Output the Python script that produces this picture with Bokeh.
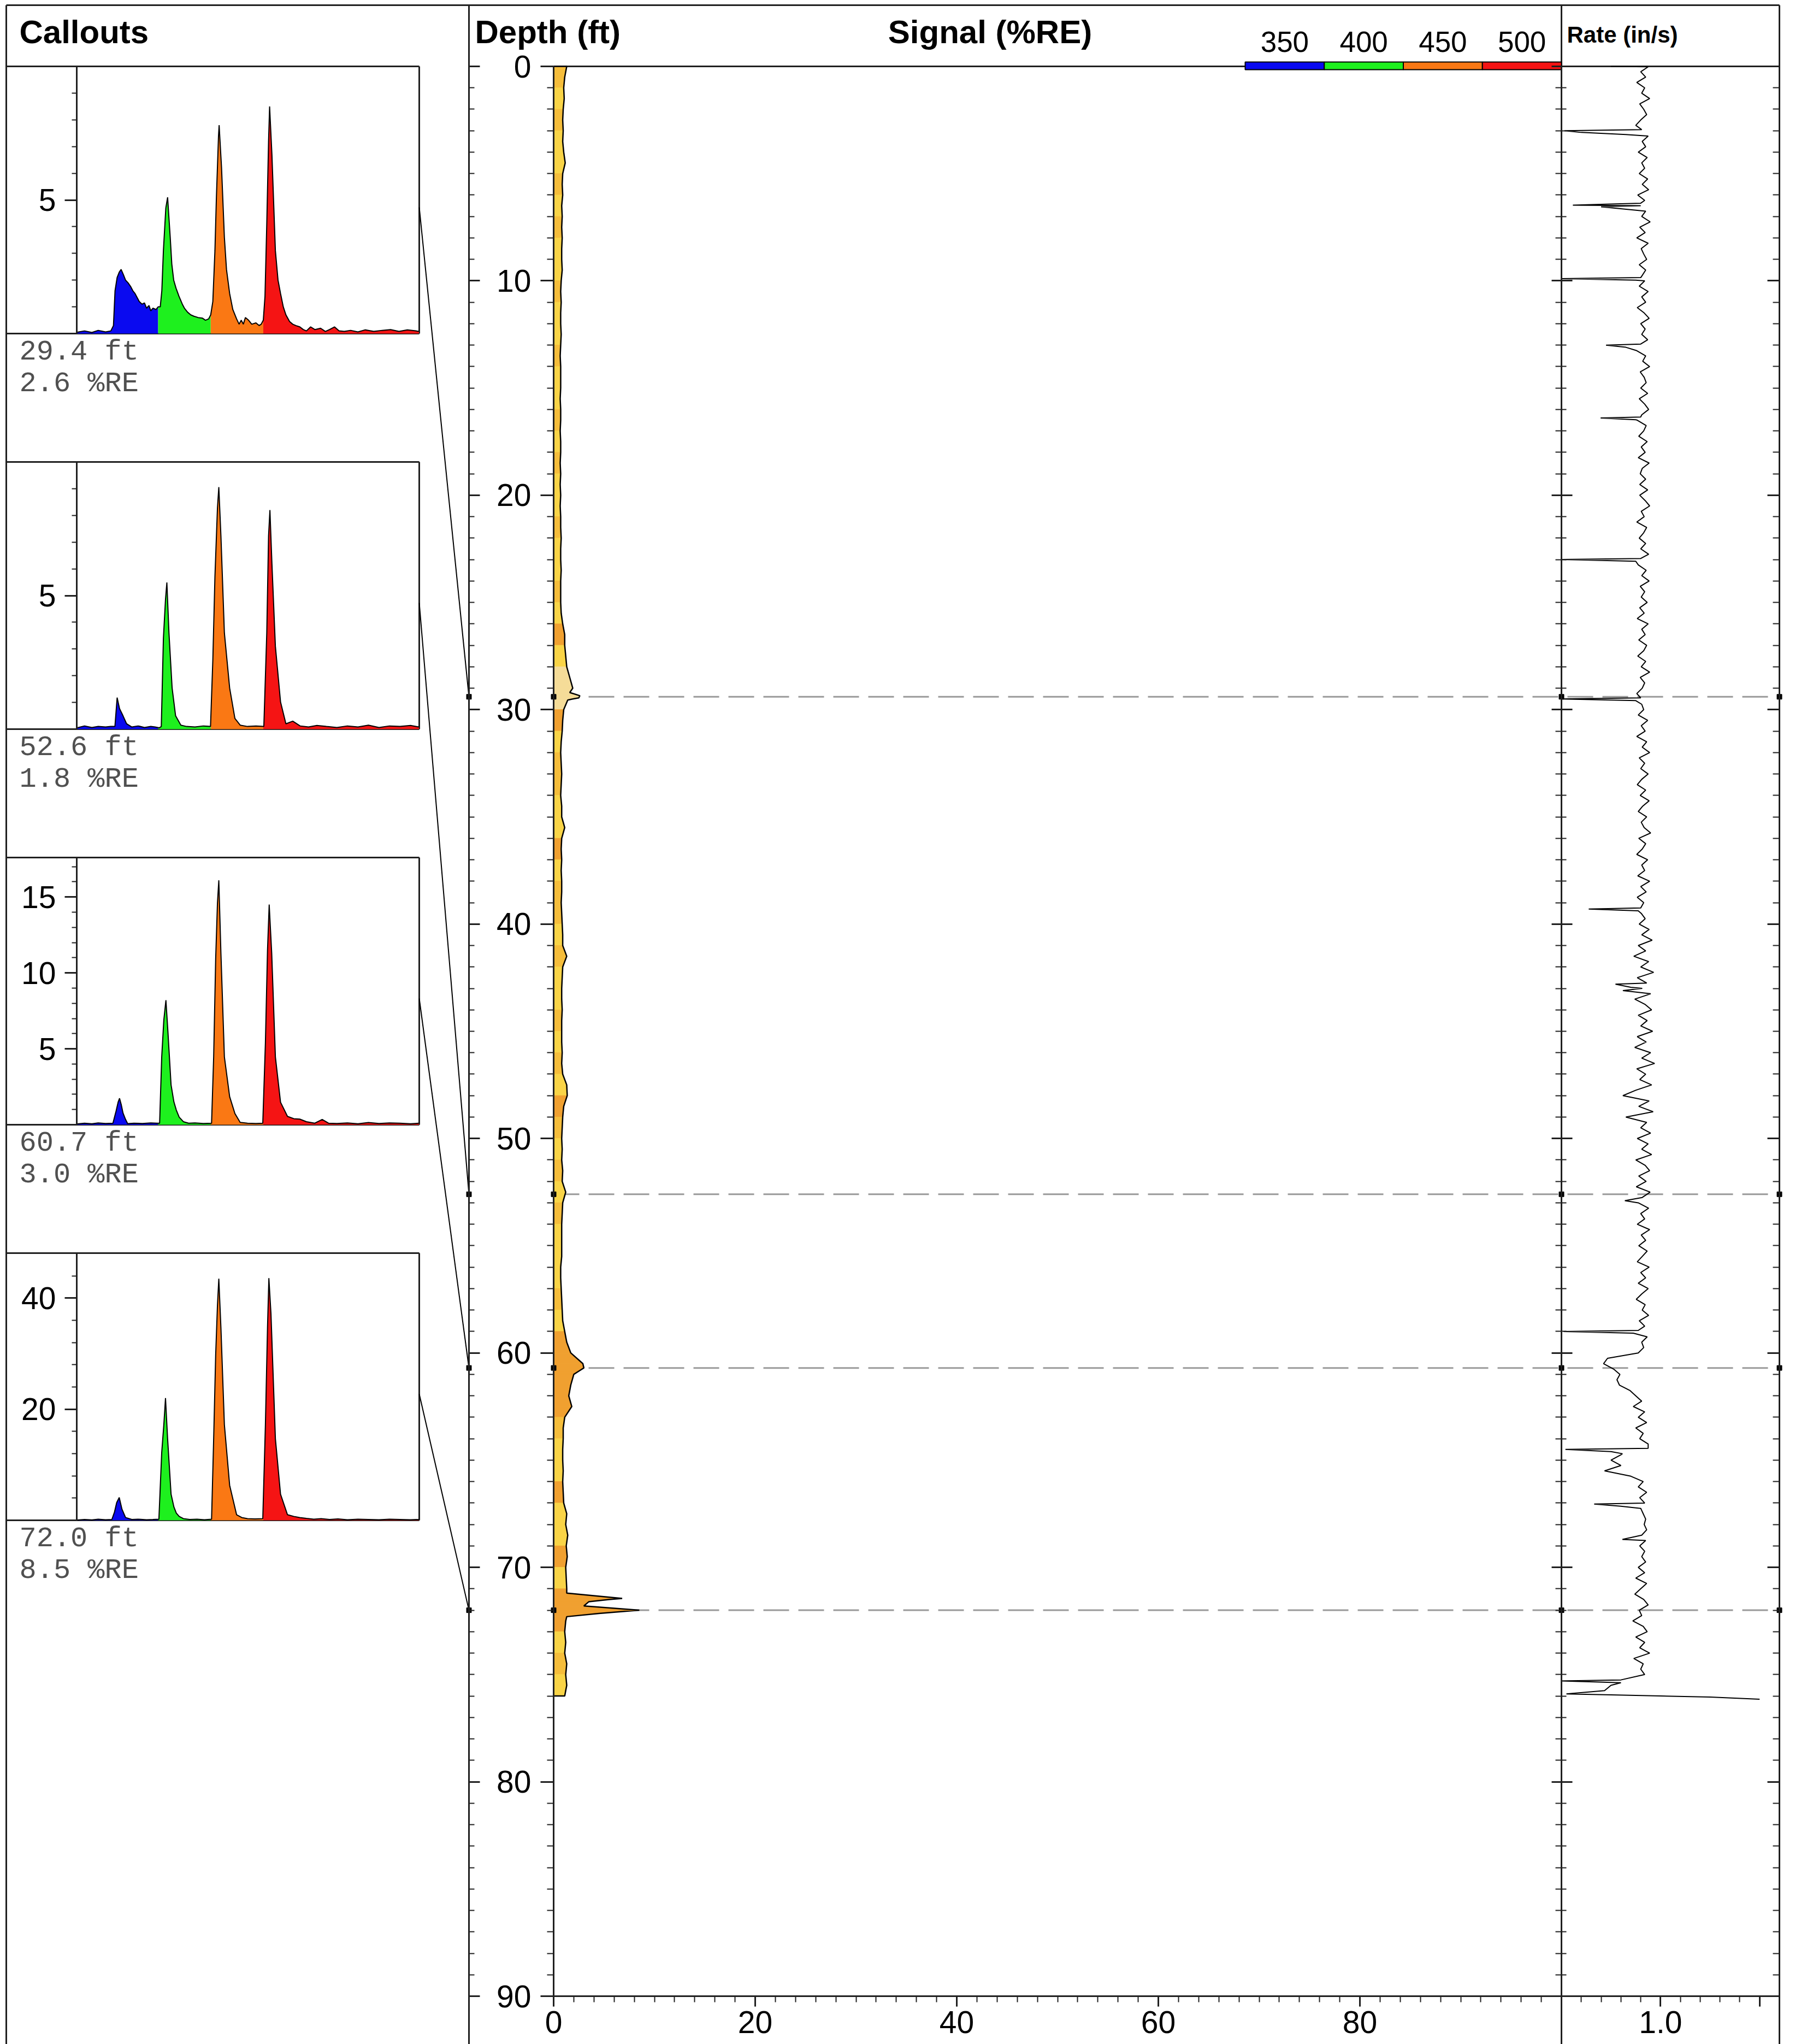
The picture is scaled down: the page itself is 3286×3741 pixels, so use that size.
import numpy as np
from bokeh.plotting import figure
from bokeh.models import Range1d, LinearAxis, FixedTicker, ColumnDataSource
from bokeh.core.properties import value
from bokeh.embed import file_html
from bokeh.resources import INLINE

# ---------------------------------------------------------------- data
callout_depth = [29.4, 52.6, 60.7, 72.0]
callout_signal = [2.6, 1.8, 3.0, 8.5]
callout_ymax = [10.0, 10.0, 17.6, 48.1]
callout_major = [[5], [5, 10], [5, 10, 15], [20, 40]]
callout_minor = [[1, 2, 3, 4, 6, 7, 8, 9],
                 [1, 2, 3, 4, 6, 7, 8, 9],
                 list(range(1, 18)),
                 list(range(4, 48, 4))]

band_labels = ["350", "400", "450", "500"]
band_lo = [325, 375, 425, 475]
band_hi = [375, 425, 475, 525]
band_colors = ["#0A0AF0", "#1EF01E", "#FA7814", "#F51414"]

spec1_nm = [298, 305, 312, 318, 325, 330, 332.5, 334, 336, 338, 339.8, 342, 344, 346.4, 349, 351, 353, 355,
            357, 359.7, 362, 364, 366.3, 368, 370, 373, 375, 377, 378.5, 380, 382.3, 384, 386.5, 388, 389.8,
            392, 394.8, 398, 400, 403, 406, 409, 413, 417, 420, 423, 425, 427, 429, 430.4, 432.4, 433, 435.3,
            438, 440, 443, 446, 449.6, 452, 454, 456, 458, 461, 464, 468, 471, 473, 475, 476.6, 478.3, 480,
            481, 483.2, 486.5, 489, 491.4, 494, 496.5, 500, 503, 506, 509.7, 513, 516, 520, 524, 529.5, 534,
            538, 542.7, 547, 552, 558, 565, 572, 580, 588, 596, 604, 612, 620, 623]
spec1_val = [0.05, 0.1, 0.04, 0.12, 0.06, 0.1, 0.3, 1.6, 2.1, 2.3, 2.4, 2.2, 2.0, 1.9, 1.75, 1.6, 1.5, 1.35,
             1.2, 1.1, 1.15, 0.95, 1.05, 0.85, 0.95, 0.9, 1.0, 1.0, 1.6, 3.1, 4.7, 5.1, 3.6, 2.6, 2.0,
             1.7, 1.4, 1.1, 0.95, 0.8, 0.7, 0.65, 0.6, 0.58, 0.5, 0.55, 0.7, 1.2, 3.1, 5.1, 7.4, 7.8, 6.2,
             3.6, 2.4, 1.5, 0.9, 0.55, 0.35, 0.5, 0.35, 0.6, 0.5, 0.35, 0.4, 0.3, 0.35, 0.5, 1.4, 4.1, 7.2,
             8.5, 6.7, 3.1, 2.0, 1.5, 1.0, 0.7, 0.45, 0.35, 0.3, 0.25, 0.15, 0.1, 0.25, 0.15, 0.2, 0.08,
             0.15, 0.25, 0.1, 0.08, 0.12, 0.06, 0.14, 0.08, 0.12, 0.15, 0.08, 0.14, 0.1, 0.08]

spec2_nm = [298, 305, 312, 318, 325, 330, 333.9, 336, 338.3, 341.6, 345, 350, 356, 362, 368, 372, 376, 378,
            380, 382, 383.3, 385.3, 388.3, 391.6, 396.6, 402, 410, 418, 424.8, 427, 429, 431.4, 432.7, 434.7,
            438, 443, 448, 453, 460, 468, 475.5, 478.3, 480, 481.3, 483.2, 486.5, 491.4, 496.5, 503, 510,
            518, 526, 535, 545, 555, 565, 575, 585, 595, 605, 615, 623]
spec2_val = [0.05, 0.12, 0.06, 0.1, 0.08, 0.1, 0.1, 1.18, 0.77, 0.5, 0.2, 0.08, 0.12, 0.06, 0.1, 0.08, 0.05, 0.1,
             3.4, 4.86, 5.49, 3.6, 1.54, 0.5, 0.15, 0.1, 0.08, 0.12, 0.1, 2.58, 5.7, 8.28, 9.06, 7.24,
             3.6, 1.54, 0.4, 0.15, 0.1, 0.12, 0.1, 3.6, 7.24, 8.2, 6.2, 3.1, 1.02, 0.2, 0.3, 0.12,
             0.08, 0.14, 0.1, 0.06, 0.12, 0.08, 0.15, 0.06, 0.12, 0.1, 0.14, 0.08]

spec3_nm = [298, 305, 312, 318, 325, 332, 335, 337, 338.3, 340, 341.6, 344, 346, 352, 360, 368, 374, 376.4,
            378.4, 380.4, 382.4, 384.3, 387.3, 390, 392.3, 395, 399, 404, 410, 418, 425.8, 427.8, 429.7,
            431.4, 432.7, 434.7, 438, 443, 448, 453, 460, 468, 474.5, 477, 479, 480.6, 483, 486.5, 491.4,
            498, 504, 509.7, 516, 524, 531, 537, 545, 555, 565, 575, 585, 595, 605, 615, 623]
spec3_val = [0.05, 0.1, 0.06, 0.12, 0.08, 0.1, 0.9, 1.5, 1.74, 1.3, 0.77, 0.35, 0.07, 0.1, 0.08, 0.12, 0.1, 0.1,
             4.47, 6.9, 8.2, 6.13, 2.62, 1.5, 0.96, 0.5, 0.2, 0.1, 0.12, 0.08, 0.1, 4.47, 10.9,
             14.6, 16.1, 11.3, 4.47, 1.85, 0.74, 0.15, 0.1, 0.08, 0.1, 5.4, 11.5, 14.5, 11.3, 4.47, 1.48,
             0.55, 0.4, 0.37, 0.2, 0.1, 0.35, 0.1, 0.08, 0.12, 0.06, 0.14, 0.08, 0.12, 0.1, 0.06, 0.1]

spec4_nm = [298, 305, 312, 318, 325, 331, 333.5, 335.6, 338, 340.6, 344, 350, 356, 364, 370, 375.7, 378.4, 380.4,
            382, 384, 387.3, 390, 392.3, 395, 399, 405, 412, 419, 425.8, 427.8, 429.7, 431.4, 432.7, 434.7,
            438, 443, 449.6, 454.5, 460, 467, 474.5, 477, 479, 480.3, 482.3, 486.5, 491.4, 498, 504, 509.7,
            516, 523, 530, 538, 546, 555, 565, 575, 585, 595, 605, 615, 623]
spec4_val = [0.05, 0.15, 0.08, 0.2, 0.1, 0.15, 1.5, 3.2, 4.1, 2.0, 0.5, 0.15, 0.2, 0.1, 0.15, 0.2, 12.2, 17.2,
             22.0, 14.7, 4.7, 2.4, 1.3, 0.7, 0.3, 0.15, 0.2, 0.1, 0.2, 14.7, 29.7, 38.7, 43.5, 34.7,
             17.2, 6.3, 1.0, 0.5, 0.3, 0.25, 0.3, 17.2, 34.7, 43.6, 37.2, 14.7, 4.7, 1.0, 0.7, 0.5,
             0.35, 0.2, 0.3, 0.15, 0.25, 0.1, 0.2, 0.15, 0.1, 0.2, 0.15, 0.1, 0.15]

spec_nm = [spec1_nm, spec2_nm, spec3_nm, spec4_nm]
spec_val = [spec1_val, spec2_val, spec3_val, spec4_val]

# signal (%RE) sampled every 0.5 ft from 0 to 76 ft
signal_step = 0.5
signal_grid_value = [
    1.3, 1.1, 1.0, 1.05, 0.95, 0.9, 0.95, 0.9, 1.0, 1.15,
    0.9, 0.85, 0.9, 0.8, 0.85, 0.8, 0.85, 0.8, 0.8, 0.85,
    0.75, 0.7, 0.75, 0.7, 0.7, 0.75, 0.7, 0.65, 0.7, 0.7,
    0.7, 0.65, 0.7, 0.7, 0.65, 0.7, 0.7, 0.65, 0.7, 0.65,
    0.7, 0.65, 0.7, 0.7, 0.75, 0.7, 0.7, 0.75, 0.7, 0.7,
    0.7, 0.75, 0.9, 1.1, 1.1, 1.2, 1.3, 1.6, 1.9, 1.9,
    1.0, 0.9, 0.85, 0.75, 0.7, 0.75, 0.8, 0.75, 0.7, 0.8,
    0.8, 1.1, 0.8, 0.75, 0.8, 0.75, 0.8, 0.8, 0.75, 0.8,
    0.85, 0.9, 0.9, 1.3, 0.9, 0.85, 0.8, 0.8, 0.85, 0.8,
    0.8, 0.8, 0.85, 0.8, 0.9, 1.3, 1.35, 1.0, 0.9, 0.85,
    0.8, 0.85, 0.8, 0.9, 0.85, 1.2, 0.9, 0.85, 0.8, 0.8,
    0.8, 0.8, 0.7, 0.7, 0.75, 0.8, 0.85, 0.9, 1.1, 1.3,
    1.7, 2.4, 2.0, 1.7, 1.5, 1.8, 1.1, 0.95, 0.95, 0.9,
    0.9, 0.95, 0.9, 0.95, 1.0, 1.3, 1.2, 1.4, 1.25, 1.35,
    1.2, 1.25, 1.3, 5.5, 1.3, 1.2, 1.1, 1.2, 1.1, 1.3,
    1.2, 1.3, 1.1]
signal_peak_depth = [29.2, 29.35, 29.45, 29.55, 60.5, 60.7, 60.85, 71.2, 71.45, 71.6, 71.8, 72.0, 72.15, 72.3]
signal_peak_value = [1.6, 2.6, 2.5, 1.4, 2.9, 3.0, 2.5, 1.3, 6.8, 3.5, 3.0, 8.5, 4.5, 1.3]
# fill tone per foot: 0 yellow, 1 gold, 2 orange, 3 pale
signal_tone = [1, 0, 1, 0, 0, 1, 0, 1, 0, 0,
               1, 0, 0, 1, 0, 0, 1, 0, 1, 0,
               0, 1, 0, 0, 1, 0, 2, 0, 3, 3,
               2, 0, 1, 1, 0, 0, 2, 0, 1, 1,
               0, 1, 0, 0, 1, 0, 1, 0, 2, 1,
               0, 1, 0, 1, 0, 0, 0, 1, 0, 2,
               2, 2, 2, 1, 0, 0, 2, 0, 0, 2,
               0, 2, 2, 0, 1, 0]
tone_colors = ["#F9D447", "#F5BD3B", "#F0A030", "#F5DC98"]

# rate (in/s) sampled every 0.25 ft from 0 to 76 ft
rate_step = 0.25
rate_grid_value = [
    0.975, 0.960, 0.970, 0.952, 0.968, 0.962, 0.978, 0.958, 0.966, 0.972, 0.960, 0.950, 0.967, 0.975, 0.963, 0.970, 0.955, 0.973, 0.962, 0.968,
    0.957, 0.974, 0.963, 0.976, 0.954, 0.968, 0.960, 0.970, 0.962, 0.979, 0.958, 0.969, 0.952, 0.975, 0.961, 0.966, 0.972, 0.957, 0.970, 0.963,
    0.968, 0.957, 0.975, 0.962, 0.970, 0.953, 0.967, 0.977, 0.960, 0.969, 0.962, 0.974, 0.958, 0.951, 0.970, 0.964, 0.978, 0.959, 0.967, 0.971,
    0.960, 0.974, 0.957, 0.968, 0.976, 0.962, 0.953, 0.971, 0.966, 0.956, 0.973, 0.961, 0.969, 0.955, 0.977, 0.963, 0.959, 0.970, 0.958, 0.974,
    0.958, 0.969, 0.978, 0.961, 0.967, 0.952, 0.972, 0.966, 0.957, 0.970, 0.960, 0.976, 0.963, 0.955, 0.971, 0.962, 0.977, 0.959, 0.968, 0.961,
    0.973, 0.958, 0.967, 0.953, 0.975, 0.962, 0.969, 0.956, 0.972, 0.966, 0.954, 0.970, 0.961, 0.978, 0.959, 0.968, 0.963, 0.952, 0.971, 0.962,
    0.966, 0.955, 0.974, 0.961, 0.969, 0.952, 0.972, 0.963, 0.978, 0.957, 0.968, 0.960, 0.975, 0.962, 0.953, 0.970, 0.959, 0.977, 0.964, 0.955,
    0.972, 0.961, 0.967, 0.980, 0.956, 0.970, 0.963, 0.952, 0.974, 0.962, 0.968, 0.954, 0.978, 0.960, 0.971, 0.953, 0.966, 0.975, 0.961, 0.969,
    0.957, 0.977, 0.962, 0.983, 0.955, 0.970, 0.946, 0.976, 0.960, 0.986, 0.953, 0.972, 0.963, 0.980, 0.948, 0.969, 0.982, 0.955, 0.973, 0.960,
    0.984, 0.953, 0.971, 0.948, 0.980, 0.962, 0.988, 0.952, 0.970, 0.958, 0.982, 0.950, 0.968, 0.977, 0.956, 0.985, 0.948, 0.972, 0.960, 0.980,
    0.953, 0.975, 0.962, 0.982, 0.950, 0.969, 0.978, 0.956, 0.971, 0.951, 0.979, 0.963, 0.955, 0.976, 0.960, 0.968, 0.953, 0.978, 0.961, 0.970,
    0.956, 0.973, 0.963, 0.953, 0.977, 0.960, 0.970, 0.955, 0.975, 0.962, 0.951, 0.969, 0.963, 0.976, 0.957, 0.968, 0.960, 0.973, 0.962, 0.966,
    0.955, 0.893, 0.885, 0.905, 0.918, 0.912, 0.917, 0.938, 0.950, 0.962, 0.945, 0.968, 0.955, 0.972, 0.950, 0.965, 0.958, 0.975, 0.960, 0.920,
    0.900, 0.920, 0.887, 0.940, 0.965, 0.955, 0.972, 0.958, 0.968, 0.960, 0.965, 0.970, 0.967, 0.972, 0.962, 0.970, 0.958, 0.968, 0.962, 0.970,
    0.955, 0.968, 0.950, 0.972, 0.960, 0.948, 0.966, 0.975, 0.957, 0.962, 0.944, 0.965, 0.973, 0.950, 0.968, 0.958, 0.978, 0.946, 0.965, 0.960,
    0.968, 0.920, 0.900, 0.887, 0.810]
rate_spike_depth = [0.0, 0.02, 2.95, 3.0, 3.08, 3.18, 6.38, 6.42, 6.47, 6.55, 9.85, 9.9, 9.97, 12.95, 13.0, 13.1,
                    16.35, 16.4, 16.48, 22.95, 23.0, 23.08, 29.45, 29.5, 29.58, 39.25, 39.3, 39.38, 42.8, 42.95,
                    43.1, 48.0, 49.0, 52.9, 58.95, 59.0, 59.08, 64.45, 64.5, 64.6, 64.7, 67.05, 67.15, 68.7,
                    75.3, 75.38, 75.9, 75.95, 76.0, 76.05, 76.1, 76.15]
rate_spike_value = [0.90, 0.975, 0.962, 0.806, 0.84, 0.93, 0.96, 0.898, 0.823, 0.88, 0.96, 0.80, 0.95, 0.96, 0.89, 0.93,
                    0.96, 0.879, 0.95, 0.96, 0.80, 0.95, 0.96, 0.80, 0.95, 0.96, 0.855, 0.955, 0.909, 0.94,
                    0.924, 0.924, 0.93, 0.928, 0.955, 0.804, 0.945, 0.975, 0.808, 0.90, 0.923, 0.866, 0.92, 0.923,
                    0.80, 0.92, 0.81, 0.90, 1.00, 1.10, 1.15, 1.20]

depth_ticks = list(range(0, 91, 10))
depth_minor = list(range(0, 91))
signal_ticks = [0, 20, 40, 60, 80]
signal_minor = list(range(0, 100, 2))
rate_ticks = [1.0, 1.2]
rate_minor = [round(0.8 + 0.04 * k, 2) for k in range(12)]


def merge(grid_d, grid_v, extra_d, extra_v):
    d = {round(float(a), 3): float(b) for a, b in zip(grid_d, grid_v)}
    for a, b in zip(extra_d, extra_v):
        d[round(float(a), 3)] = float(b)
    keys = sorted(d)
    return np.array(keys), np.array([d[k] for k in keys])


sig_d, sig_v = merge(np.arange(len(signal_grid_value)) * signal_step, signal_grid_value,
                     signal_peak_depth, signal_peak_value)
rate_d, rate_v = merge(np.arange(len(rate_grid_value)) * rate_step, rate_grid_value,
                       rate_spike_depth, rate_spike_value)

# ---------------------------------------------------------------- page layout (pixels)
W, H = 3286, 3741
TOP_Y, HEAD_Y = 9, 121
LEFT_X, SEP1_X, SIG_X0, SEP2_X, RIGHT_X = 11, 858, 1013, 2858, 3257
AXIS_Y = 3653
C_AXIS_X, C_RIGHT_X = 140, 767
C_TOP0, C_PITCH, C_HEIGHT = 121, 724, 489
NM_MIN, NM_MAX = 297.6, 623.3
RATE_MIN, RATE_MAX = 0.8, 1.24
LINE = "#202020"
TITLE_BASE = 58     # baseline used for the header texts
LEGEND_BASE = 76


def lin(v0, p0, v1, p1):
    k = (p1 - p0) / (v1 - v0)
    return (lambda v: p0 + (np.asarray(v, dtype=float) - v0) * k), (lambda px: v0 + (px - p0) / k)


def xrange_for(v0, p0, v1, p1):
    k = (p1 - p0) / (v1 - v0)
    return Range1d(start=v0 + (0 - p0) / k, end=v0 + (W - p0) / k)


def yrange_for(v0, p0, v1, p1):
    k = (p1 - p0) / (v1 - v0)
    return Range1d(start=v0 + (H - p0) / k, end=v0 + (0 - p0) / k)


depth_px, _ = lin(0, HEAD_Y, 90, AXIS_Y)
sig_px, px_sig = lin(0, SIG_X0, 100, SEP2_X)
rate_px, _ = lin(RATE_MIN, SEP2_X, RATE_MAX, RIGHT_X)

p = figure(width=W, height=H, x_range=Range1d(0, W), y_range=Range1d(H, 0),
           output_backend="svg", toolbar_location=None, min_border=0,
           x_axis_type=None, y_axis_type=None, title=None, outline_line_color=None)
p.background_fill_color = "white"
p.border_fill_color = "white"

p.extra_y_ranges = {"depth": yrange_for(0, HEAD_Y, 90, AXIS_Y)}
p.extra_x_ranges = {"sig": xrange_for(0, SIG_X0, 100, SEP2_X),
                    "rate": xrange_for(RATE_MIN, SEP2_X, RATE_MAX, RIGHT_X),
                    "nm": xrange_for(NM_MIN, C_AXIS_X, NM_MAX, C_RIGHT_X),
                    "legend": xrange_for(325, 2279, 525, SEP2_X)}
c_tops = [C_TOP0 + i * C_PITCH for i in range(4)]
c_bases = [t + C_HEIGHT for t in c_tops]
for i in range(4):
    p.extra_y_ranges[f"c{i}"] = yrange_for(0, c_bases[i], callout_ymax[i], c_tops[i])

FONT = "Liberation Sans"

# ---------------------------------------------------------------- frame lines
seg_x0 = [LEFT_X, LEFT_X, SEP1_X, SEP2_X, RIGHT_X, SIG_X0]
seg_y0 = [TOP_Y, TOP_Y, TOP_Y, TOP_Y, TOP_Y, HEAD_Y]
seg_x1 = [RIGHT_X, LEFT_X, SEP1_X, SEP2_X, RIGHT_X, RIGHT_X]
seg_y1 = [TOP_Y, H, H, H, H, HEAD_Y]
for t, b in zip(c_tops, c_bases):
    seg_x0 += [LEFT_X, LEFT_X, C_RIGHT_X]
    seg_y0 += [t, b, t]
    seg_x1 += [C_RIGHT_X, C_RIGHT_X, C_RIGHT_X]
    seg_y1 += [t, b, b]
p.segment(x0=seg_x0, y0=seg_y0, x1=seg_x1, y1=seg_y1, line_color=LINE, line_width=3)

# ---------------------------------------------------------------- headers
p.text(x=[35, 869], y=[TITLE_BASE, TITLE_BASE], text=["Callouts", "Depth (ft)"], text_font=value(FONT),
       text_font_size="60px", text_font_style="bold", text_color="black",
       text_align="left", text_baseline="alphabetic")
p.text(x=[1812], y=[TITLE_BASE], text=["Signal (%RE)"], text_font=value(FONT),
       text_font_size="60px", text_font_style="bold", text_color="black",
       text_align="center", text_baseline="alphabetic")
p.text(x=[2868], y=[TITLE_BASE + 5], text=["Rate (in/s)"], text_font=value(FONT),
       text_font_size="42px", text_font_style="bold", text_color="black",
       text_align="left", text_baseline="alphabetic")

# legend bar
p.quad(left=band_lo, right=band_hi, top=113, bottom=127, fill_color=band_colors,
       line_color="black", line_width=2, x_range_name="legend")
p.text(x=[(a + b) / 2 for a, b in zip(band_lo, band_hi)], y=[LEGEND_BASE] * 4, text=band_labels,
       text_font=value(FONT), text_font_size="53px", text_color="black",
       text_align="center", text_baseline="alphabetic", x_range_name="legend")

# ---------------------------------------------------------------- callout markers (under data)
dash_y = callout_depth
p.segment(x0=[SIG_X0] * 4, y0=dash_y, x1=[RIGHT_X] * 4, y1=dash_y, line_color="#9A9A9A",
          line_width=3, line_dash="47 17", y_range_name="depth")

# ---------------------------------------------------------------- signal fill
n = len(sig_d)
xs = [[0, sig_v[i], sig_v[i + 1], 0] for i in range(n - 1)]
ys = [[sig_d[i], sig_d[i], sig_d[i + 1], sig_d[i + 1]] for i in range(n - 1)]
cols = [tone_colors[signal_tone[min(int(sig_d[i]), len(signal_tone) - 1)]] for i in range(n - 1)]
p.patches(xs="xs", ys="ys", fill_color="c", line_color="c", line_width=1,
          source=ColumnDataSource(dict(xs=xs, ys=ys, c=cols)),
          x_range_name="sig", y_range_name="depth")
p.line(x=np.concatenate([[0], sig_v, [0]]), y=np.concatenate([[sig_d[0]], sig_d, [sig_d[-1]]]),
       line_color="black", line_width=2.5, x_range_name="sig", y_range_name="depth")

# ---------------------------------------------------------------- rate line
p.line(x=rate_v, y=rate_d, line_color="black", line_width=2, x_range_name="rate", y_range_name="depth")

# ---------------------------------------------------------------- callouts
for i in range(4):
    X = np.array(spec_nm[i], dtype=float)
    Y = np.array(spec_val[i], dtype=float)
    yname = f"c{i}"
    edges = [X[0]] + band_hi[:-1] + [X[-1]]
    for b in range(4):
        lo, hi = edges[b], edges[b + 1]
        inner = (X > lo) & (X < hi)
        bx = np.concatenate([[lo], X[inner], [hi]])
        by = np.concatenate([[np.interp(lo, X, Y)], Y[inner], [np.interp(hi, X, Y)]])
        p.varea(x=bx, y1=0, y2=by, fill_color=band_colors[b], x_range_name="nm", y_range_name=yname)
    p.line(x=X, y=Y, line_color="black", line_width=2, x_range_name="nm", y_range_name=yname)

    ax = LinearAxis(x_range_name="nm", y_range_name=yname, fixed_location=NM_MIN,
                    bounds=(0, callout_ymax[i]),
                    ticker=FixedTicker(ticks=callout_major[i], minor_ticks=callout_minor[i]))
    ax.major_label_overrides = {t: ("" if t >= callout_ymax[i] - 0.5 else str(t)) for t in callout_major[i]}
    ax.axis_line_color = LINE
    ax.axis_line_width = 3
    ax.major_tick_line_color = LINE
    ax.minor_tick_line_color = LINE
    ax.major_tick_line_width = 3
    ax.minor_tick_line_width = 2
    ax.major_tick_in, ax.major_tick_out = 0, 22
    ax.minor_tick_in, ax.minor_tick_out = 0, 9
    ax.major_label_text_font = FONT
    ax.major_label_text_font_size = "57px"
    ax.major_label_text_color = "black"
    ax.major_label_standoff = 16
    p.add_layout(ax, "left")

    p.text(x=[35, 35], y=[c_bases[i] + 34, c_bases[i] + 92],
           text=[f"{callout_depth[i]:.1f} ft", f"{callout_signal[i]:.1f} %RE"],
           text_font=value("Liberation Mono"), text_font_size="52px", text_color="#505050",
           text_align="left", text_baseline="alphabetic")

# leader lines from each callout box to its depth
lead_y0 = [t + 258 for t in c_tops]
lead_y1 = list(depth_px(callout_depth))
p.segment(x0=[C_RIGHT_X] * 4, y0=lead_y0, x1=[SEP1_X] * 4, y1=lead_y1, line_color="black", line_width=2)

dot_x = [SEP1_X, float(sig_px(0)), float(rate_px(RATE_MIN)), float(rate_px(RATE_MAX))]
p.scatter(x=dot_x * 4, y=[d for d in callout_depth for _ in range(4)], marker="square", size=9,
          color="black", y_range_name="depth")


# ---------------------------------------------------------------- axes
def style(ax, tin, tout, labels=True, size="57px", standoff=10):
    ax.axis_line_color = LINE
    ax.axis_line_width = 3
    ax.major_tick_line_color = LINE
    ax.minor_tick_line_color = LINE
    ax.major_tick_line_width = 3
    ax.minor_tick_line_width = 2
    ax.major_tick_in, ax.minor_tick_in = tin
    ax.major_tick_out, ax.minor_tick_out = tout
    ax.major_label_text_font = FONT
    ax.major_label_text_font_size = size
    ax.major_label_text_color = "black"
    ax.major_label_standoff = standoff
    if not labels:
        ax.major_label_overrides = {t: "" for t in ax.ticker.ticks}


depth_ax = LinearAxis(x_range_name="sig", y_range_name="depth", fixed_location=0, bounds=(0, 90),
                      ticker=FixedTicker(ticks=depth_ticks, minor_ticks=depth_minor))
style(depth_ax, (0, 0), (24, 12), standoff=17)
p.add_layout(depth_ax, "left")

depth_ax2 = LinearAxis(x_range_name="sig", y_range_name="depth", fixed_location=float(px_sig(SEP1_X)),
                       bounds=(0, 90), ticker=FixedTicker(ticks=depth_ticks, minor_ticks=depth_minor))
style(depth_ax2, (0, 0), (20, 10), labels=False)
p.add_layout(depth_ax2, "right")

rate_left = LinearAxis(x_range_name="rate", y_range_name="depth", fixed_location=RATE_MIN, bounds=(0, 90),
                       ticker=FixedTicker(ticks=depth_ticks, minor_ticks=depth_minor))
style(rate_left, (20, 9), (18, 11), labels=False)
p.add_layout(rate_left, "left")

rate_right = LinearAxis(x_range_name="rate", y_range_name="depth", fixed_location=RATE_MAX, bounds=(0, 90),
                        ticker=FixedTicker(ticks=depth_ticks, minor_ticks=depth_minor))
style(rate_right, (22, 12), (0, 0), labels=False)
p.add_layout(rate_right, "right")

sig_ax = LinearAxis(x_range_name="sig", y_range_name="depth", fixed_location=90, bounds=(0, 100),
                    ticker=FixedTicker(ticks=signal_ticks, minor_ticks=signal_minor))
style(sig_ax, (0, 0), (19, 11), standoff=8)
p.add_layout(sig_ax, "below")

rate_ax = LinearAxis(x_range_name="rate", y_range_name="depth", fixed_location=90, bounds=(RATE_MIN, RATE_MAX),
                     ticker=FixedTicker(ticks=rate_ticks, minor_ticks=rate_minor))
style(rate_ax, (0, 0), (19, 11), standoff=8)
rate_ax.major_label_overrides = {1.0: "1.0", 1.2: ""}
p.add_layout(rate_ax, "below")

open("out.html", "w").write(file_html(p, INLINE))
